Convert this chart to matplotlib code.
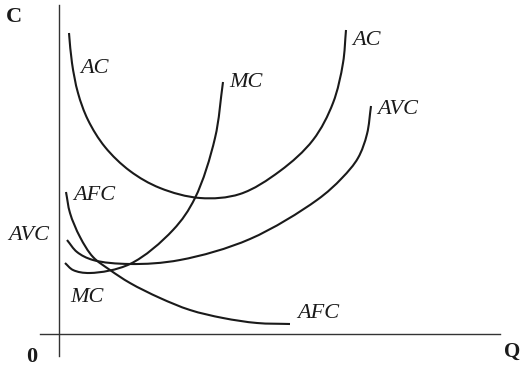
import math
import matplotlib
matplotlib.use("Agg")
import matplotlib.pyplot as plt
from matplotlib.path import Path
from matplotlib.patches import PathPatch

# Curve values (Q = quantity, C = cost, arbitrary units)
ac_q = [10, 13, 19, 29, 46, 71, 101, 141, 181, 221, 254, 274, 284, 287]
ac_c = [301, 271, 241, 214, 187, 163, 146, 136, 140, 163, 194, 231, 271, 304]

mc_q = [6, 14, 31, 71, 114, 136, 156, 164]
mc_c = [71, 64, 61, 70, 104, 136, 196, 252]

avc_q = [8, 18, 34, 71, 121, 191, 258, 283, 299, 308, 312]
avc_c = [94, 82, 74, 70, 74, 95, 134, 156, 176, 200, 228]

afc_q = [7, 11, 21, 34, 51, 71, 101, 131, 164, 198, 231]
afc_c = [142, 121, 97, 77, 64, 51, 36, 24, 16, 11, 10]

fig = plt.figure(figsize=(5.22, 3.66), dpi=100)
ax = fig.add_axes([0, 0, 1, 1])
ax.set_xlim(-59, 463)
ax.set_ylim(-32, 334)

ink = "#1a1a1a"


def smooth_path(q, c):
    """Centripetal Catmull-Rom curve through every data point, as cubic Beziers."""
    pts = list(zip(q, c))
    n = len(pts)
    first = (2 * pts[0][0] - pts[1][0], 2 * pts[0][1] - pts[1][1])
    last = (2 * pts[-1][0] - pts[-2][0], 2 * pts[-1][1] - pts[-2][1])
    ext = [first] + pts + [last]

    def dist(a, b):
        return max(math.hypot(b[0] - a[0], b[1] - a[1]), 1e-6)

    verts = [pts[0]]
    codes = [Path.MOVETO]
    for i in range(1, n):
        P0, P1, P2, P3 = ext[i - 1], ext[i], ext[i + 1], ext[i + 2]
        d1, d2, d3 = dist(P0, P1), dist(P1, P2), dist(P2, P3)
        s1, s2, s3 = math.sqrt(d1), math.sqrt(d2), math.sqrt(d3)
        den1 = 3 * s1 * (s1 + s2)
        den2 = 3 * s3 * (s3 + s2)
        b1 = tuple((d1 * P2[k] - d2 * P0[k] + (2 * d1 + 3 * s1 * s2 + d2) * P1[k]) / den1
                   for k in range(2))
        b2 = tuple((d3 * P1[k] - d2 * P3[k] + (2 * d3 + 3 * s3 * s2 + d2) * P2[k]) / den2
                   for k in range(2))
        verts += [b1, b2, P2]
        codes += [Path.CURVE4] * 3
    return Path(verts, codes)


for q, c in [(ac_q, ac_c), (mc_q, mc_c), (avc_q, avc_c), (afc_q, afc_c)]:
    ax.add_patch(PathPatch(smooth_path(q, c), fill=False, edgecolor=ink,
                           lw=1.5, capstyle="butt", joinstyle="round"))

# axes through the origin
for s in ["top", "right"]:
    ax.spines[s].set_visible(False)
ax.spines["left"].set_position(("data", 0))
ax.spines["bottom"].set_position(("data", 0))
ax.spines["left"].set_bounds(-22, 329)
ax.spines["bottom"].set_bounds(-19, 441)
for s in ["left", "bottom"]:
    ax.spines[s].set_color("#333333")
    ax.spines[s].set_linewidth(1.0)
ax.set_xticks([])
ax.set_yticks([])
ax.patch.set_alpha(0)

serif = ["Liberation Serif", "DejaVu Serif"]
bold = dict(family=serif, fontweight="bold", fontsize=16, color=ink, va="baseline")
ax.text(-45, 312, "C", ha="center", **bold)
ax.text(-27, -28, "0", ha="center", **bold)
ax.text(445, -23, "Q", ha="left", family=serif, fontweight="bold", fontsize=15,
        color=ink, va="baseline")

it = dict(family=serif, style="italic", fontsize=16, color=ink, va="baseline", ha="left")
ax.text(21, 261, "AC", **it)
ax.text(293, 289, "AC", **it)
ax.text(170, 247, "MC", **it)
ax.text(318, 220, "AVC", **it)
ax.text(14, 134, "AFC", **it)
ax.text(-51, 94, "AVC", **it)
ax.text(11, 32, "MC", **it)
ax.text(238, 16, "AFC", **it)

fig.savefig("out.png", dpi=100, facecolor="white")
